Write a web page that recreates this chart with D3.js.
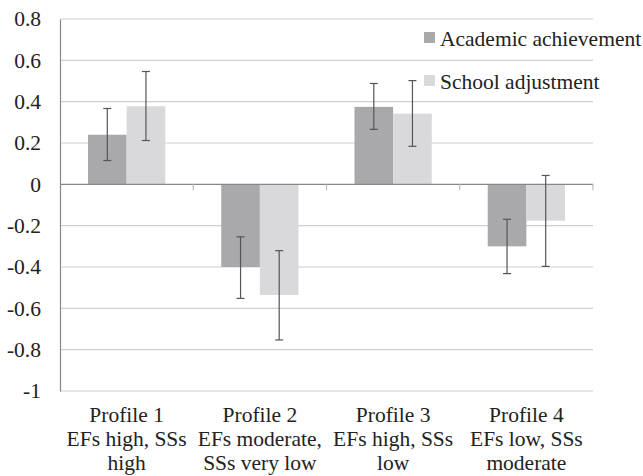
<!DOCTYPE html>
<html>
<head>
<meta charset="utf-8">
<script src="https://cdn.jsdelivr.net/npm/d3@7"></script>
<style>
  body { margin: 0; background: #fff; }
</style>
</head>
<body>
<svg width="643" height="476" font-family="'Liberation Serif', 'DejaVu Serif', serif"></svg>
<script>
// profiles (x categories), each label split into lines
const profiles = ['Profile 1', 'Profile 2', 'Profile 3', 'Profile 4']
const profileLines = [
  ['Profile 1', 'EFs high, SSs', 'high'],
  ['Profile 2', 'EFs moderate,', 'SSs very low'],
  ['Profile 3', 'EFs high, SSs', 'low'],
  ['Profile 4', 'EFs low, SSs', 'moderate']
]
const seriesNames = ['Academic achievement', 'School adjustment']

// means and error bar ends
const academic = [0.24, -0.40, 0.375, -0.30]
const academicLow = [0.115, -0.552, 0.266, -0.432]
const academicHigh = [0.367, -0.254, 0.488, -0.169]

const school = [0.378, -0.535, 0.342, -0.176]
const schoolLow = [0.212, -0.753, 0.184, -0.397]
const schoolHigh = [0.546, -0.321, 0.502, 0.043]

const yTicks = [0.8, 0.6, 0.4, 0.2, 0, -0.2, -0.4, -0.6, -0.8, -1]

const colors = ['#a9a9ac', '#d9d9db']
const serif = "'Liberation Serif', 'DejaVu Serif', serif"
const fontSize = 21.5

const svg = d3.select('svg')
const mLeft = 60, mRight = 593, mTop = 19, mBottom = 391

const x = d3.scaleBand().domain(profiles).range([mLeft, mRight]).paddingInner(0.42).paddingOuter(0.21)
const xSub = d3.scaleBand().domain(seriesNames).range([0, x.bandwidth()])
const y = d3.scaleLinear().domain([-1, 0.8]).range([mBottom, mTop])

const cat = d3.scaleBand().domain(profiles).range([mLeft, mRight])

// gridlines
svg.append('g')
  .selectAll('line')
  .data(yTicks.filter(d => d !== 0))
  .join('line')
  .attr('x1', mLeft).attr('x2', mRight)
  .attr('y1', d => y(d)).attr('y2', d => y(d))
  .attr('stroke', '#cfcfcf').attr('stroke-width', 1.2)

// y axis
const yAxis = d3.axisLeft(y).tickValues(yTicks).tickSize(0).tickPadding(19)
  .tickFormat(d => String(+d.toFixed(1)))
svg.append('g')
  .attr('transform', `translate(${mLeft},0)`)
  .call(yAxis)
  .attr('font-family', serif)
  .attr('font-size', fontSize)
  .call(g => g.select('.domain').attr('stroke', '#888').attr('stroke-width', 1.2))
  .call(g => g.selectAll('text').attr('fill', '#222'))

const rows = profiles.map((p, i) => [
  { p, s: seriesNames[0], v: academic[i], lo: academicLow[i], hi: academicHigh[i], c: colors[0] },
  { p, s: seriesNames[1], v: school[i], lo: schoolLow[i], hi: schoolHigh[i], c: colors[1] }
]).flat()

// bars
svg.append('g')
  .selectAll('rect')
  .data(rows)
  .join('rect')
  .attr('x', d => x(d.p) + xSub(d.s))
  .attr('width', xSub.bandwidth())
  .attr('y', d => y(Math.max(0, d.v)))
  .attr('height', d => Math.abs(y(d.v) - y(0)))
  .attr('fill', d => d.c)

// zero axis with category ticks
svg.append('line')
  .attr('x1', mLeft).attr('x2', mRight)
  .attr('y1', y(0)).attr('y2', y(0))
  .attr('stroke', '#888').attr('stroke-width', 1.2)
svg.append('g')
  .selectAll('line')
  .data(profiles.slice(1).concat(['end']))
  .join('line')
  .attr('x1', d => d === 'end' ? mRight : cat(d))
  .attr('x2', d => d === 'end' ? mRight : cat(d))
  .attr('y1', y(0)).attr('y2', y(0) + 6)
  .attr('stroke', '#bbb').attr('stroke-width', 1.2)

// error bars
const err = svg.append('g').attr('stroke', '#555').attr('stroke-width', 1.2)
rows.forEach(d => {
  const cx = x(d.p) + xSub(d.s) + xSub.bandwidth() / 2
  err.append('line').attr('x1', cx).attr('x2', cx).attr('y1', y(d.lo)).attr('y2', y(d.hi))
  err.append('line').attr('x1', cx - 4).attr('x2', cx + 4).attr('y1', y(d.lo)).attr('y2', y(d.lo))
  err.append('line').attr('x1', cx - 4).attr('x2', cx + 4).attr('y1', y(d.hi)).attr('y2', y(d.hi))
})

// category labels
svg.append('g')
  .selectAll('text')
  .data(profiles)
  .join('text')
  .attr('x', d => cat(d) + cat.bandwidth() / 2)
  .attr('y', 422)
  .attr('text-anchor', 'middle')
  .attr('font-family', serif)
  .attr('font-size', fontSize)
  .attr('fill', '#222')
  .each(function(d, i) {
    d3.select(this).selectAll('tspan')
      .data(profileLines[i])
      .join('tspan')
      .attr('x', cat(d) + cat.bandwidth() / 2)
      .attr('dy', (t, j) => j === 0 ? 0 : 24)
      .text(t => t)
  })

// legend
const legend = svg.append('g').attr('font-family', serif).attr('font-size', fontSize).attr('fill', '#222')
seriesNames.forEach((s, i) => {
  const ly = 32 + i * 43
  legend.append('rect').attr('x', 424).attr('y', ly).attr('width', 11).attr('height', 11).attr('fill', colors[i])
  legend.append('text').attr('x', 440).attr('y', ly + 13.5).text(s)
})
</script>
</body>
</html>
